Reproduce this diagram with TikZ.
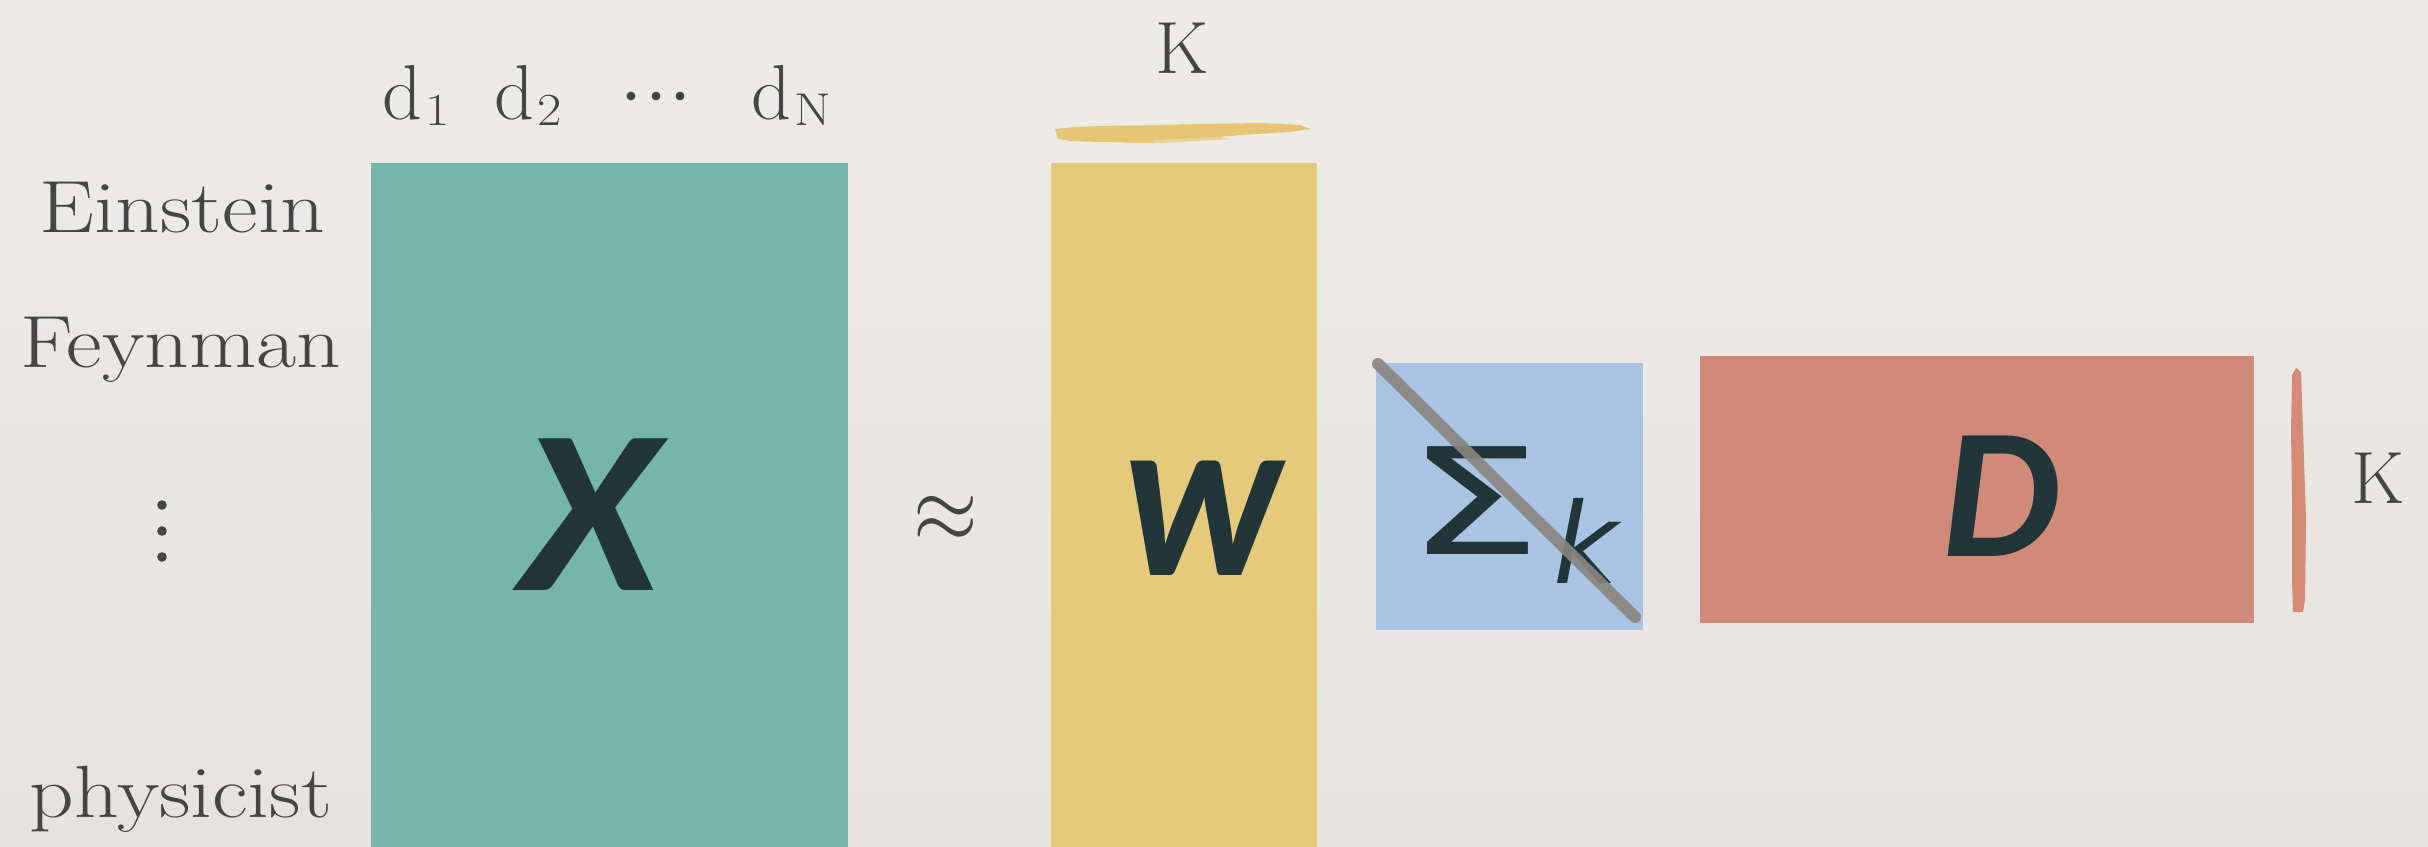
\documentclass[tikz,border=0pt]{standalone}
\usepackage{fontspec}
\newfontfamily\calib{Carlito}
\newfontfamily\dejavu{DejaVu Sans}
\definecolor{paper}{HTML}{EEECE7}
\definecolor{paperdark}{HTML}{E6E3DE}
\definecolor{labelgray}{HTML}{454545}
\definecolor{ink}{HTML}{22363A}
\definecolor{tealbox}{HTML}{75B5AA}
\definecolor{yellowbox}{HTML}{E6CA7B}
\definecolor{bluebox}{HTML}{A8C4E2}
\definecolor{redbox}{HTML}{D08A7A}
\definecolor{yellowbrush}{HTML}{E4C675}
\definecolor{redbrush}{HTML}{D68A78}
\definecolor{slashgray}{HTML}{8A8580}
\newcommand{\wide}[1]{\scalebox{1.18}[1]{#1}}
\newcommand{\dsub}[1]{\kern1.5pt\raisebox{-3pt}{\fontsize{23}{25}\selectfont\scalebox{1.15}[1]{#1}}}
\begin{document}
\begin{tikzpicture}[x=0.5pt,y=-0.5pt,
  lbl/.style={text=labelgray, font=\fontsize{37}{40}\selectfont, inner sep=0pt, anchor=base},
  dlbl/.style={text=labelgray, font=\fontsize{39}{42}\selectfont, inner sep=0pt, anchor=base west},
  dotmark/.style={circle, fill=labelgray, inner sep=0pt, minimum size=4.8pt},
  matbox/.style={rectangle, draw=none, inner sep=0pt, outer sep=0pt},
  bigletter/.style={text=ink, inner sep=0pt}]
\useasboundingbox (0,0) rectangle (2428,846);
\clip (0,0) rectangle (2428,846);
\shade[top color=paper, bottom color=paperdark] (0,0) rectangle (2428,846);

% matrices
\node (Xbox) [matbox, fill=tealbox, minimum width=238.5pt, minimum height=343.5pt] at (609.5,506.5) {};
\node (Wbox) [matbox, fill=yellowbox, minimum width=133pt, minimum height=343.5pt] at (1184,506.5) {};
\node (Sbox) [matbox, fill=bluebox, minimum width=133.5pt, minimum height=133.5pt] at (1509.5,496.5) {};
\node (Dbox) [matbox, fill=redbox, minimum width=277pt, minimum height=133.5pt] at (1977,489.5) {};

% letters
\node (Xl) [bigletter, font=\calib\bfseries\itshape\fontsize{117}{120}\selectfont] at (590,515) {\scalebox{1.08}[1]{X}};
\node (Wl) [bigletter, font=\calib\bfseries\itshape\fontsize{118}{120}\selectfont] at (1203,518) {\scalebox{0.9}[1]{w}};
\node (Dl) [bigletter, font=\calib\bfseries\itshape\fontsize{93}{96}\selectfont] at (2001,496) {D};
\node (Sl) [bigletter, anchor=base, font=\dejavu\fontsize{74}{76}\selectfont] at (1474,554) {\scalebox{1.45}[1]{Σ}};
\node (kl) [bigletter, anchor=base, font=\dejavu\itshape\fontsize{56}{58}\selectfont] at (1586,583) {k};

% approx
\node (approx) [text=labelgray, inner sep=0pt, font=\fontsize{20}{24}\selectfont] at (946,519) {\scalebox{2.0}[2.3]{$\approx$}};

% slash across Sigma
\coordinate (s1) at (1378,364);
\coordinate (s2) at (1635,617);
\draw[slashgray, opacity=0.9, line width=6pt, line cap=round] (s1) -- (s2);

% brush strokes
\fill[yellowbrush] (1055,129) -- (1075,127) -- (1100,126) -- (1160,125) -- (1200,124)
  -- (1260,123) -- (1300,125) -- (1311,129) -- (1290,132) -- (1240,135) -- (1200,139)
  -- (1150,143) -- (1100,142) -- (1070,141) -- (1058,139) -- cycle;
\fill[yellowbrush!70!paper] (1150,140) -- (1220,137) -- (1230,139) -- (1160,143) -- cycle;
\fill[redbrush] (2296,368) -- (2301,372) -- (2303,430) -- (2306,520) -- (2305,600)
  -- (2303,612) -- (2293,612) -- (2292,580) -- (2292,500) -- (2291,430) -- (2292,375) -- cycle;

% row labels
\node (einstein) [lbl] at (182,232) {\wide{Einstein}};
\node (feynman) [lbl] at (181,367) {\wide{Feynman}};
\node (physicist) [lbl] at (181,817) {\wide{physicist}};
\node (v1) [dotmark] at (162,505) {};
\node (v2) [dotmark] at (162,531) {};
\node (v3) [dotmark] at (162,557) {};

% column labels
\node (d1) [dlbl] at (382,119) {d\dsub{1}};
\node (d2) [dlbl] at (494,119) {d\dsub{2}};
\node (h1) [dotmark, minimum size=4.4pt] at (631,96) {};
\node (h2) [dotmark, minimum size=4.4pt] at (656,96) {};
\node (h3) [dotmark, minimum size=4.4pt] at (680,96) {};
\node (dN) [dlbl] at (751,119) {d\dsub{N}};

% K labels
\node (Ktop) [lbl] at (1182,73) {K};
\node (Kright) [lbl] at (2378,503) {K};
\end{tikzpicture}
\end{document}
